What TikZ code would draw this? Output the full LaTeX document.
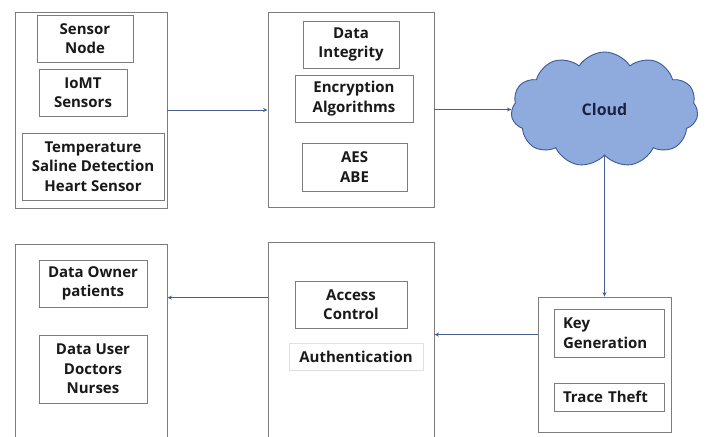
\documentclass[tikz,border=0pt]{standalone}
\usepackage{fontspec}
\setmainfont{Open Sans}
\usetikzlibrary{shapes.symbols,arrows.meta,calc}
\definecolor{boxline}{RGB}{125,125,125}
\definecolor{linkline}{RGB}{70,95,145}
\definecolor{cloudfill}{RGB}{143,170,220}
\definecolor{cloudline}{RGB}{60,90,150}
\definecolor{cloudtext}{RGB}{25,35,65}
\definecolor{txt}{RGB}{25,25,25}
\tikzset{
  outerbox/.style={draw=boxline, line width=0.9pt, inner sep=0pt, fill=white},
  innerbox/.style={draw=boxline, line width=0.8pt, inner sep=0pt, align=center,
    font=\fontsize{15}{19.5}\selectfont\bfseries, text=txt},
  faintbox/.style={innerbox, draw=black!12},
  link/.style={draw=linkline, line width=0.8pt, -{Stealth[length=4.5pt,width=4pt]}},
}
\begin{document}
\begin{tikzpicture}[x=1pt,y=-1pt]
\useasboundingbox (0,0) rectangle (706,436);
\clip (0,0) rectangle (706,436);
\fill[white] (0,0) rectangle (706,436);

% sensing layer
\node[outerbox, minimum width=152pt, minimum height=196pt] (sens) at (91,110) {};
\node[innerbox, minimum width=96pt, minimum height=47pt] (snode) at (85,38.5) {Sensor\\Node};
\node[innerbox, minimum width=88pt, minimum height=47pt] (iomt) at (83,92.5) {IoMT\\Sensors};
\node[innerbox, minimum width=142pt, minimum height=67pt] (temp) at (93,166.5) {Temperature\\Saline Detection\\Heart Sensor};

% security layer
\node[outerbox, minimum width=166pt, minimum height=195pt] (sec) at (351,109.5) {};
\node[innerbox, minimum width=96pt, minimum height=47pt] (integ) at (351,44.5) {Data\\Integrity};
\node[innerbox, minimum width=118pt, minimum height=47pt] (enc) at (354,98.5) {Encryption\\Algorithms};
\node[innerbox, minimum width=105pt, minimum height=48pt] (aes) at (354.5,167) {AES\\ABE};

% cloud
\node[cloud, cloud puffs=11, cloud puff arc=115, cloud ignores aspect,
  minimum width=187pt, minimum height=115pt, draw=cloudline, line width=0.9pt,
  fill=cloudfill, text=cloudtext, font=\fontsize{16}{19}\selectfont\bfseries] (cloud) at (604.5,109.5) {Cloud};

% key layer
\node[outerbox, minimum width=133pt, minimum height=135pt] (kbox) at (604.5,364.5) {};
\node[innerbox, minimum width=110pt, minimum height=48pt, text width=92pt, align=left] (keygen) at (609,333) {Key\\Generation};
\node[innerbox, minimum width=110pt, minimum height=28pt, text width=92pt, align=left] (trace) at (609,397) {Trace Theft};

% access layer
\node[outerbox, minimum width=166pt, minimum height=203pt] (acc) at (351,343.5) {};
\node[innerbox, minimum width=112pt, minimum height=47pt] (actrl) at (351,304.5) {Access\\Control};
\node[faintbox, minimum width=134pt, minimum height=27pt] (auth) at (356,356.5) {Authentication};

% users layer
\node[outerbox, minimum width=152pt, minimum height=201pt] (users) at (91,344.5) {};
\node[innerbox, minimum width=108pt, minimum height=47pt] (owner) at (93,283.5) {Data Owner\\patients};
\node[innerbox, minimum width=108pt, minimum height=68pt] (duser) at (93,369) {Data User\\Doctors\\Nurses};

% connectors
\draw[link] (sens.east) -- (sens.east -| sec.west);
\draw[link] (sec.east) -- (cloud.west);
\draw[link] (cloud.south) -- (kbox.north);
\coordinate (kout) at ($(kbox.north west)!0.28!(kbox.south west)$);
\draw[link] (kout) -- (kout -| acc.east);
\coordinate (aout) at ($(acc.north west)!0.275!(acc.south west)$);
\draw[link] (aout) -- (aout -| users.east);
\end{tikzpicture}
\end{document}
